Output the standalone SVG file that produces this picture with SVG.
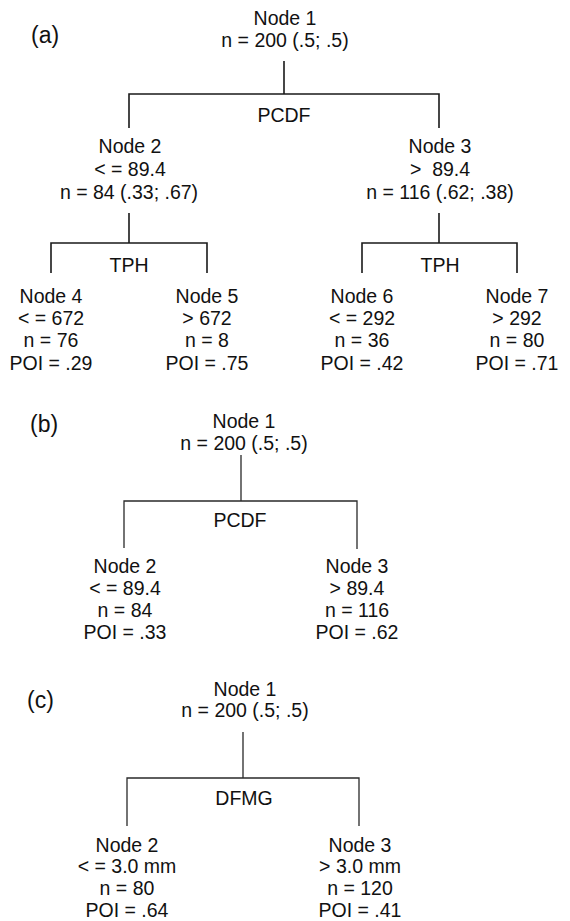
<svg xmlns="http://www.w3.org/2000/svg" width="570" height="921" viewBox="0 0 570 921">
<style>
  text { font-family: "Liberation Sans", Arial, sans-serif; font-size: 19.5px; fill: #111; text-anchor: middle; }
  .lbl { font-size: 23px; text-anchor: start; }
  .pre { white-space: pre; }
  .edge { fill: none; stroke: #1a1a1a; stroke-width: 1.6; }
  .edge2 { fill: none; stroke: #2a2a2a; stroke-width: 1.3; }
</style>
<rect width="570" height="921" fill="#fff"/>

<!-- Panel (a) -->
<text class="lbl" x="31" y="43">(a)</text>
<g id="connectors-a">
  <path class="edge" d="M284 61 V94 M129 128 V94 H439 V128"/>
  <path class="edge" d="M129 213 V243 M51 273 V243 H207 V273"/>
  <path class="edge" d="M439 213 V243 M362 273 V243 H517 V273"/>
  <text x="284" y="122">PCDF</text>
  <text x="129" y="272">TPH</text>
  <text x="440" y="272">TPH</text>
</g>
<g id="a-node1">
  <text x="285" y="25">Node 1</text>
  <text x="285" y="47">n = 200 (.5; .5)</text>
</g>
<g id="a-node2">
  <text x="130" y="153">Node 2</text>
  <text x="130" y="176">&lt; = 89.4</text>
  <text x="129" y="199">n = 84 (.33; .67)</text>
</g>
<g id="a-node3">
  <text x="440" y="153">Node 3</text>
  <text class="pre" x="440" y="176">&gt;  89.4</text>
  <text x="440" y="199">n = 116 (.62; .38)</text>
</g>
<g id="a-node4">
  <text x="51" y="303">Node 4</text>
  <text x="51" y="325">&lt; = 672</text>
  <text x="51" y="347">n = 76</text>
  <text x="51" y="370">POI = .29</text>
</g>
<g id="a-node5">
  <text x="207" y="303">Node 5</text>
  <text x="207" y="325">&gt; 672</text>
  <text x="207" y="347">n = 8</text>
  <text x="207" y="370">POI = .75</text>
</g>
<g id="a-node6">
  <text x="362" y="303">Node 6</text>
  <text x="362" y="325">&lt; = 292</text>
  <text x="362" y="347">n = 36</text>
  <text x="362" y="370">POI = .42</text>
</g>
<g id="a-node7">
  <text x="517" y="303">Node 7</text>
  <text x="517" y="325">&gt; 292</text>
  <text x="517" y="347">n = 80</text>
  <text x="517" y="370">POI = .71</text>
</g>

<!-- Panel (b) -->
<text class="lbl" x="30" y="432">(b)</text>
<g id="connectors-b">
  <path class="edge2" d="M241 455 V501 M124 548 V501 H357 V549"/>
  <text x="240" y="527">PCDF</text>
</g>
<g id="b-node1">
  <text x="244" y="428">Node 1</text>
  <text x="244" y="450">n = 200 (.5; .5)</text>
</g>
<g id="b-node2">
  <text x="125" y="573">Node 2</text>
  <text x="125" y="595">&lt; = 89.4</text>
  <text x="125" y="617">n = 84</text>
  <text x="125" y="639">POI = .33</text>
</g>
<g id="b-node3">
  <text x="357" y="573">Node 3</text>
  <text x="357" y="595">&gt; 89.4</text>
  <text x="357" y="617">n = 116</text>
  <text x="357" y="639">POI = .62</text>
</g>

<!-- Panel (c) -->
<text class="lbl" x="27" y="708">(c)</text>
<g id="connectors-c">
  <path class="edge2" d="M243 732 V778 M127 826 V778 H359 V826"/>
  <text x="244" y="805">DFMG</text>
</g>
<g id="c-node1">
  <text x="245" y="696">Node 1</text>
  <text x="245" y="717">n = 200 (.5; .5)</text>
</g>
<g id="c-node2">
  <text x="127" y="852">Node 2</text>
  <text x="127" y="873">&lt; = 3.0 mm</text>
  <text x="127" y="895">n = 80</text>
  <text x="127" y="917">POI = .64</text>
</g>
<g id="c-node3">
  <text x="360" y="852">Node 3</text>
  <text x="360" y="873">&gt; 3.0 mm</text>
  <text x="360" y="895">n = 120</text>
  <text x="360" y="917">POI = .41</text>
</g>
</svg>
